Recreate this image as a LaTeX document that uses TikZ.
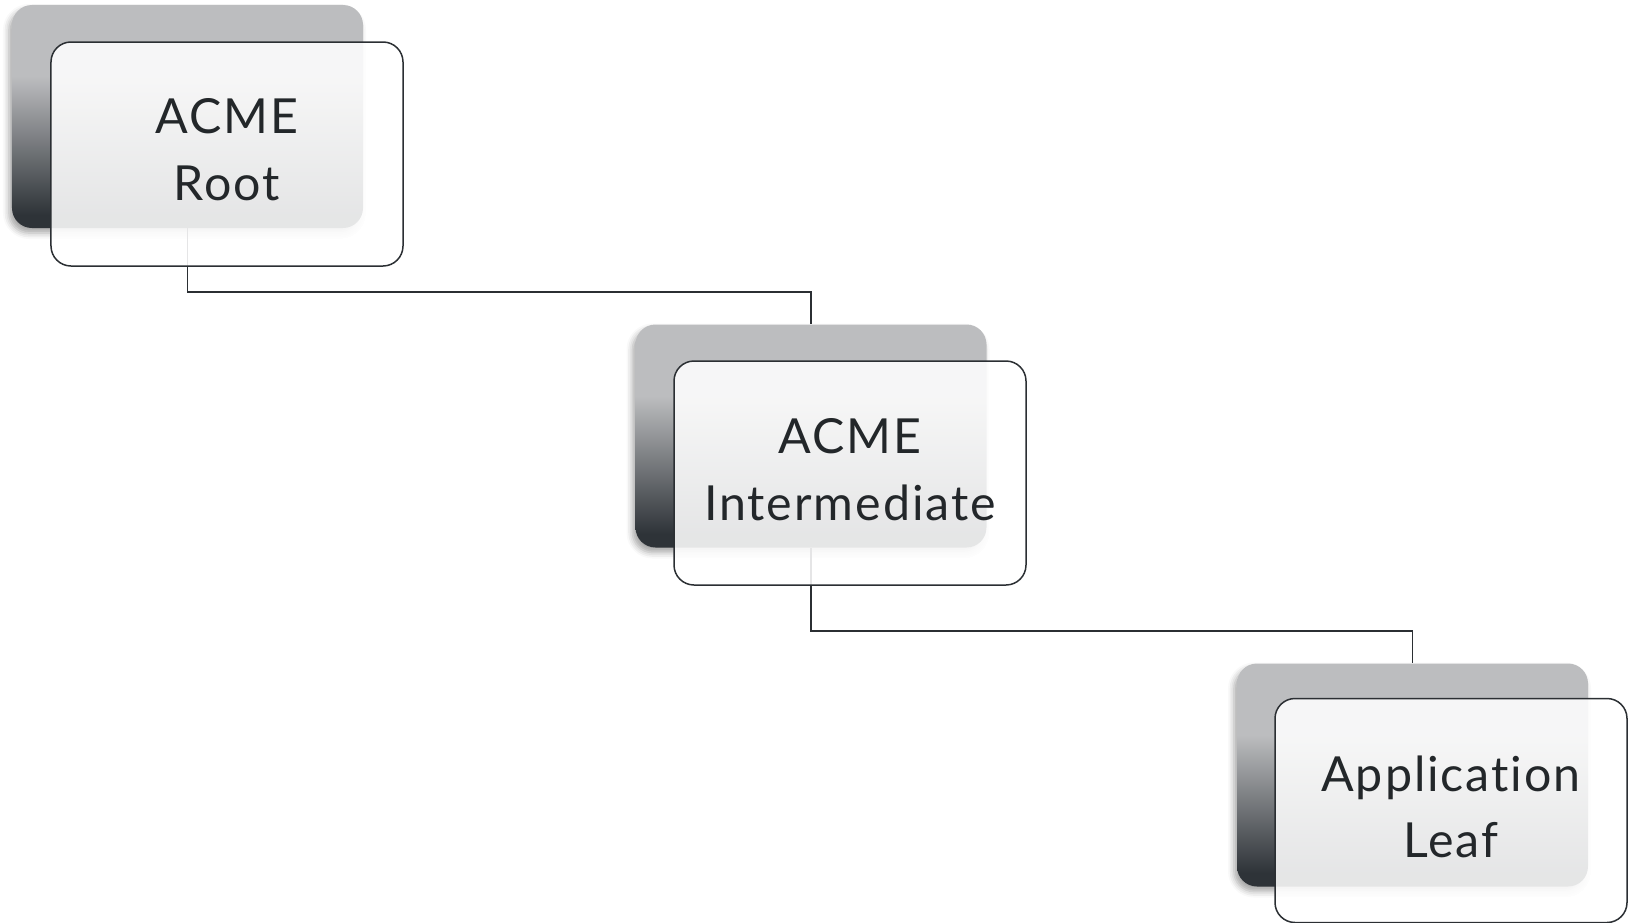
\documentclass[tikz,border=0pt]{standalone}
\usepackage{fontspec}
\setmainfont{Lato}[Ligatures=CommonOff, LetterSpace=4]
\usetikzlibrary{shadows.blur}

\definecolor{cardgrey}{HTML}{BCBDBF}
\definecolor{carddark}{HTML}{2E3338}
\definecolor{ink}{HTML}{23272A}
\definecolor{edge}{HTML}{2B2F33}

% grey at the top, darkening towards the bottom (25bp..75bp spans the card)
\pgfdeclareverticalshading{cardshade}{100bp}{%
  color(0bp)=(carddark); color(28bp)=(carddark);
  color(59bp)=(cardgrey); color(100bp)=(cardgrey)}

\tikzset{
  backcard/.style={rectangle, rounded corners=20bp, inner sep=0pt,
    minimum width=351bp, minimum height=223bp,
    shade, shading=cardshade,
    blur shadow={shadow xshift=-3bp, shadow yshift=-5bp,
      shadow blur radius=6bp, shadow opacity=35}},
  frontcard/.style={rectangle, rounded corners=20bp, inner sep=0pt,
    minimum width=352bp, minimum height=224bp,
    draw=edge, line width=1.5bp,
    fill=white, fill opacity=0.88, text opacity=1},
  cardtext/.style={text=ink, align=center, inner sep=0pt,
    font=\fontsize{48.5}{67}\selectfont}
}
\tikzset{link/.style={draw=edge, line width=1.5bp}}

\begin{document}
\begin{tikzpicture}[x=1bp, y=-1bp]
  \useasboundingbox (0,0) rectangle (1631,922);

  % shaded back cards
  \node[backcard] (rootback)  at (187.5,116.5) {};
  \node[backcard] (interback) at (811,436) {};
  \node[backcard] (leafback)  at (1412.5,775) {};

  % links between the levels of the chain
  \coordinate (bend1) at (811,292);
  \coordinate (bend2) at (1412.5,631);
  \draw[link] (rootback.south) |- (bend1) -- (interback.north);
  \draw[link] (interback.south) |- (bend2) -- (leafback.north);

  % translucent front cards
  \node[frontcard] (root)  at (227,154)    {};
  \node[frontcard] (inter) at (850,473)    {};
  \node[frontcard] (leaf)  at (1451,810.5) {};

  % labels, set a little above the card centres
  \node[cardtext] (rootlabel)  at ([yshift=4.5bp]root.center)  {ACME\\Root};
  \node[cardtext] (interlabel) at ([yshift=3.5bp]inter.center) {ACME\\Intermediate};
  \node[cardtext] (leaflabel)  at ([yshift=3.5bp]leaf.center)  {Application\\Leaf};
\end{tikzpicture}
\end{document}
